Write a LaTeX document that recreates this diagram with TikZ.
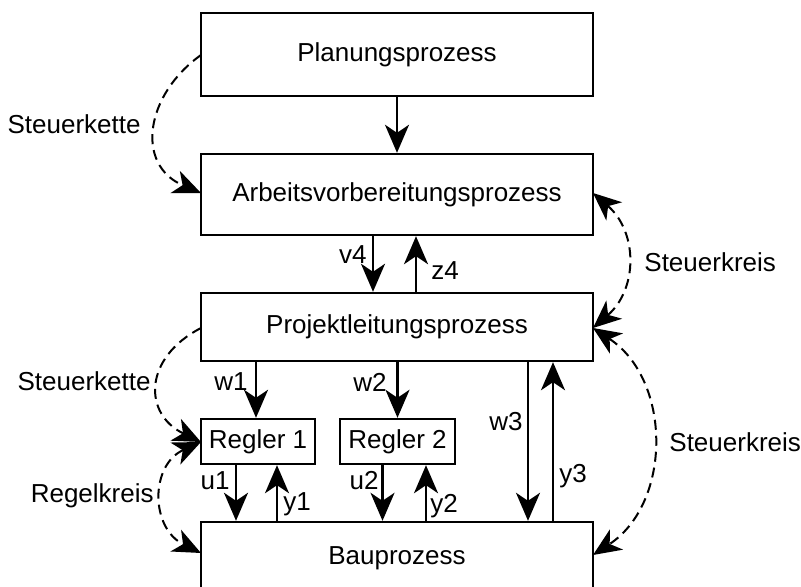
\documentclass[tikz,border=0pt]{standalone}
\usepackage{fontspec}
\setmainfont{Liberation Sans}
\usetikzlibrary{arrows.meta}
\begin{document}
\begin{tikzpicture}[x=0.5pt,y=-0.5pt,
  every node/.style={font=\fontsize{13}{15}\selectfont},
  proc/.style={draw, line width=1.2pt, rectangle, inner sep=0pt},
  tip/.tip={Stealth[length=14pt,width=12pt,inset=4pt]},
  arr/.style={line width=1.1pt, -tip},
  loop/.style={line width=1pt, dash pattern=on 5pt off 3pt},
  tipend/.style={-tip},
  tipboth/.style={tip-tip},
  lbl/.style={inner sep=1pt}]
\clip (0,0) rectangle (801,587);
\fill[white] (0,0) rectangle (801,587);

% process blocks
\node[proc, minimum width=196pt, minimum height=41.5pt] (plan) at (397,54.5) {Planungsprozess};
\node[proc, minimum width=196pt, minimum height=40.5pt] (avp) at (397,194.5) {Arbeitsvorbereitungsprozess};
\node[proc, minimum width=196pt, minimum height=34pt] (pl) at (397,327) {Projektleitungsprozess};
\node[proc, minimum width=57pt, minimum height=22.5pt] (r1) at (258,441.5) {Regler 1};
\node[proc, minimum width=57.5pt, minimum height=22.5pt] (r2) at (397.5,441.5) {Regler 2};
\node[proc, minimum width=196pt, minimum height=38pt] (bau) at (397,560) {};
\node (baut) at (397,558) {Bauprozess};

% signal arrows
\draw[arr] (plan.south) -- (avp.north);
\draw[arr] ([xshift=-12pt]avp.south) -- ([xshift=-12pt]pl.north);
\draw[arr] ([xshift=9.5pt]pl.north) -- ([xshift=9.5pt]avp.south);
\draw[arr] ([xshift=-1pt]r1.north |- pl.south) -- ([xshift=-1pt]r1.north);
\draw[arr] (r2.north |- pl.south) -- (r2.north);
\draw[arr] ([xshift=65.5pt]pl.south) -- ([xshift=65.5pt]bau.north);
\draw[arr] ([xshift=78pt]bau.north) -- ([xshift=78pt]pl.south);
\draw[arr] ([xshift=-11pt]r1.south) -- ([xshift=-11pt]r1.south |- bau.north);
\draw[arr] ([xshift=9.5pt]r1.south |- bau.north) -- ([xshift=9.5pt]r1.south);
\draw[arr] ([xshift=-7.5pt]r2.south) -- ([xshift=-7.5pt]r2.south |- bau.north);
\draw[arr] ([xshift=14.25pt]r2.south |- bau.north) -- ([xshift=14.25pt]r2.south);

% signal labels
\node[lbl, anchor=east] (lv4) at (369,255) {v4};
\node[lbl, anchor=west] (lz4) at (429,271) {z4};
\node[lbl, anchor=east] (lw1) at (250,382) {w1};
\node[lbl, anchor=east] (lw2) at (389,382) {w2};
\node[lbl, anchor=east] (lw3) at (525,422) {w3};
\node[lbl, anchor=west] (ly3) at (557,476) {y3};
\node[lbl, anchor=east] (lu1) at (232,481) {u1};
\node[lbl, anchor=west] (ly1) at (281,504) {y1};
\node[lbl, anchor=east] (lu2) at (381,481) {u2};
\node[lbl, anchor=west] (ly2) at (428,506) {y2};

% control chains and loops
\coordinate (planW) at (201,55);
\coordinate (avpW) at (201,193);
\coordinate (avpE) at (593,193);
\coordinate (plW) at (201,328);
\coordinate (plE) at (593,328);
\coordinate (r1W) at (201,442);
\coordinate (bauW) at (201,553);
\coordinate (bauE) at (593,555);

\draw[loop, tipend] (planW) .. controls (145,95) and (135,165) .. (avpW);
\draw[loop, tipboth] (avpE) .. controls (638,232) and (638,289) .. (plE);
\draw[loop, tipend] (plW) .. controls (143,358) and (143,414) .. (r1W);
\draw[loop, tipboth] (r1W) .. controls (150,465) and (150,528) .. (bauW);
\draw[loop, tipboth] (plE) .. controls (672,380) and (672,503) .. (bauE);

\node[lbl, anchor=east] (sk1) at (143,124) {Steuerkette};
\node[lbl, anchor=west] (sr1) at (642,262) {Steuerkreis};
\node[lbl, anchor=east] (sk2) at (153,381) {Steuerkette};
\node[lbl, anchor=east] (rk) at (156,496) {Regelkreis};
\node[lbl, anchor=west] (sr2) at (667,442) {Steuerkreis};
\end{tikzpicture}
\end{document}
